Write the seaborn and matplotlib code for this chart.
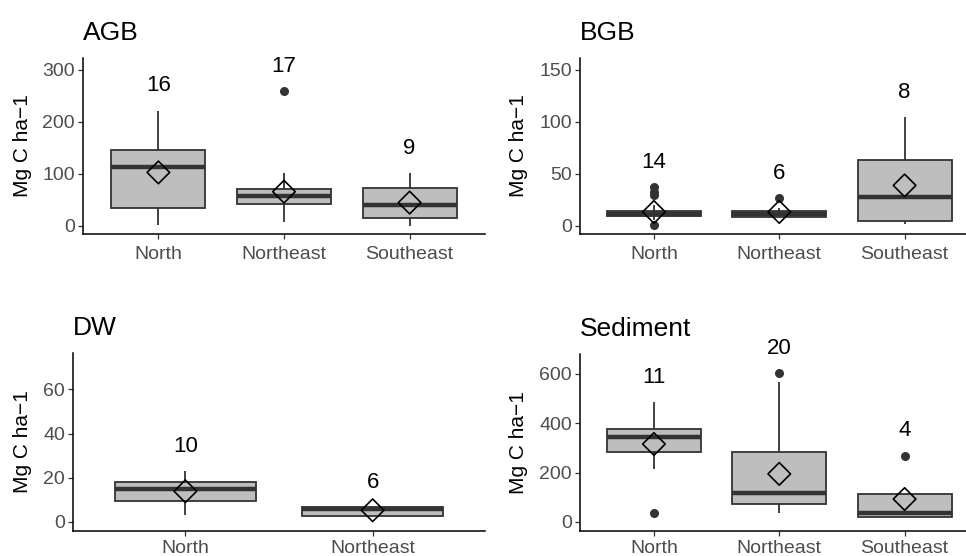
import numpy as np
import pandas as pd
import matplotlib
matplotlib.use("Agg")
import matplotlib.pyplot as plt
import seaborn as sns

sns.set_style("white")
plt.rcParams["font.family"] = ["Liberation Sans", "DejaVu Sans"]

regions = ["North", "Northeast", "Southeast"]
regions_dw = ["North", "Northeast"]

# AGB
agb_low = [2, 8, 0]
agb_q1 = [34, 42, 15]
agb_med = [113, 58, 41]
agb_q3 = [146, 71, 74]
agb_high = [222, 101, 101]
agb_mean = [103, 66, 45]
agb_n = [16, 17, 9]
agb_out = {"Northeast": [259]}

# BGB
bgb_low = [6, 8, 2]
bgb_q1 = [9.5, 9, 5]
bgb_med = [12, 12, 27.5]
bgb_q3 = [14.5, 14.5, 63.5]
bgb_high = [20, 17, 104.5]
bgb_mean = [13.5, 13.5, 39]
bgb_n = [14, 6, 8]
bgb_out = {"North": [37.5, 33, 30, 1], "Northeast": [27]}

# DW
dw_low = [3, 2.9]
dw_q1 = [9.6, 2.9]
dw_med = [15, 6]
dw_q3 = [18, 6.8]
dw_high = [23, 6.8]
dw_mean = [13.9, 5.3]
dw_n = [10, 6]
dw_out = {}

# Sediment
sed_low = [216, 35, 20]
sed_q1 = [282, 74, 22]
sed_med = [343, 118, 38]
sed_q3 = [377, 282, 112]
sed_high = [486, 566, 112]
sed_mean = [316, 195, 93]
sed_n = [11, 20, 4]
sed_out = {"North": [36], "Northeast": [603], "Southeast": [269]}

yticks = {
    "AGB": [0, 100, 200, 300],
    "BGB": [0, 50, 100, 150],
    "DW": [0, 20, 40, 60],
    "Sediment": [0, 200, 400, 600],
}

W, H = 966, 556
fig = plt.figure(figsize=(W / 100, H / 100), dpi=100)

def add_ax(left, right, top, bottom):
    return fig.add_axes([left / W, 1 - bottom / H, (right - left) / W, (bottom - top) / H])

panels = [
    ("AGB", regions, agb_low, agb_q1, agb_med, agb_q3, agb_high, agb_mean, agb_n, agb_out,
     (83, 485, 58, 234), (-15.4, 323), (-0.6, 2.6), 32, 5),
    ("BGB", regions, bgb_low, bgb_q1, bgb_med, bgb_q3, bgb_high, bgb_mean, bgb_n, bgb_out,
     (580, 966, 58, 234), (-7.7, 161.5), (-0.59, 2.49), 528, 5),
    ("DW", regions_dw, dw_low, dw_q1, dw_med, dw_q3, dw_high, dw_mean, dw_n, dw_out,
     (73, 485, 353, 531), (-4.07, 76.4), (-0.6, 1.6), 32, 2.5),
    ("Sediment", regions, sed_low, sed_q1, sed_med, sed_q3, sed_high, sed_mean, sed_n, sed_out,
     (580, 966, 354, 531), (-36.5, 681), (-0.59, 2.49), 528, 2.5),
]

dark = "#333333"
for (title, cats, lo, q1, med, q3, hi, mean, n, out, box, ylim, xlim, ylab_x, xpad) in panels:
    ax = add_ax(*box)
    rows = []
    for i, c in enumerate(cats):
        for v in [lo[i], q1[i], med[i], q3[i], hi[i]]:
            rows.append({"region": c, "value": v})
    df = pd.DataFrame(rows)
    sns.boxplot(data=df, x="region", y="value", order=cats, ax=ax, whis=(0, 100),
                width=0.75, showfliers=False, showcaps=False, color="#BEBEBE",
                linewidth=1.3, linecolor=dark, saturation=1,
                boxprops=dict(facecolor="#BEBEBE", edgecolor=dark),
                whiskerprops=dict(color=dark),
                medianprops=dict(color=dark, linewidth=3.2))
    # outliers
    orows = [{"region": c, "value": v} for c in cats for v in out.get(c, [])]
    if orows:
        odf = pd.DataFrame(orows)
        sns.stripplot(data=odf, x="region", y="value", order=cats, ax=ax, jitter=False,
                      color=dark, size=6.5, linewidth=0, zorder=4)
    # means
    mdf = pd.DataFrame({"region": cats, "value": mean})
    n_before = len(ax.collections)
    sns.stripplot(data=mdf, x="region", y="value", order=cats, ax=ax, jitter=False,
                  marker="D", size=11.5, color="white", linewidth=1.2, edgecolor="black", zorder=5)
    for coll in ax.collections[n_before:]:
        coll.set_facecolor("none")
        coll.set_edgecolor("black")
    # n labels
    rng = ylim[1] - ylim[0]
    for i, c in enumerate(cats):
        top = max([hi[i]] + out.get(c, []))
        ax.text(i, top + 0.14 * rng, str(n[i]), ha="center", va="center",
                fontsize=16, color="black")
    ax.set_xlim(*xlim)
    ax.set_ylim(*ylim)
    ax.set_yticks(yticks[title])
    ax.set_xlabel("")
    ax.set_ylabel("Mg C ha\u22121", fontsize=15, color="black")
    ax.yaxis.set_label_coords((ylab_x - box[0]) / (box[1] - box[0]), 0.5)
    ax.set_title(title, loc="left", fontsize=19, pad=13, color="black")
    for s in ["top", "right"]:
        ax.spines[s].set_visible(False)
    for s in ["left", "bottom"]:
        ax.spines[s].set_color("black")
        ax.spines[s].set_linewidth(1.1)
    ax.tick_params(axis="both", length=3.7, width=0.9, color=dark, left=True, bottom=True)
    ax.tick_params(axis="y", labelsize=14, labelcolor="#4D4D4D", pad=2)
    ax.tick_params(axis="x", labelsize=14, labelcolor="#4D4D4D", pad=xpad)

fig.savefig("out.png", dpi=100, facecolor="white")
